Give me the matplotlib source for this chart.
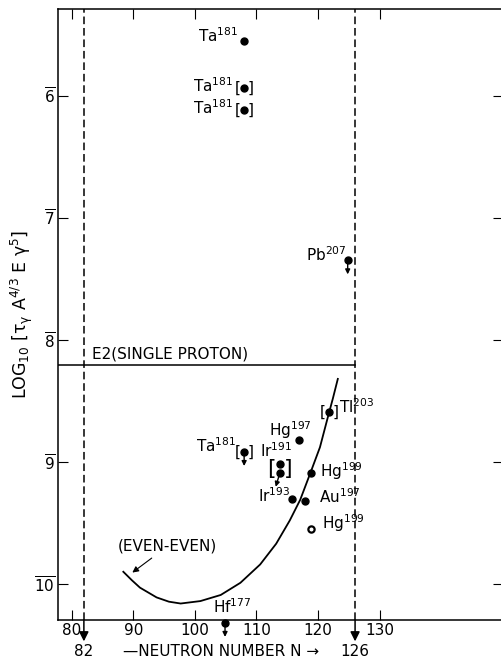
import matplotlib
matplotlib.use("Agg")
import matplotlib.pyplot as plt

plt.rcParams['font.family'] = ['DejaVu Sans']
plt.rcParams['mathtext.default'] = 'regular'

# neutron number N and -log10 value (the axis runs downward, labels with a bar)
pts_n = [108, 108, 108, 124.8, 121.8, 116.9, 108, 113.8, 113.8, 118.9, 115.8, 117.9, 118.9, 104.9]
pts_v = [5.55, 5.94, 6.12, 7.35, 8.59, 8.82, 8.92, 9.02, 9.09, 9.09, 9.30, 9.32, 9.55, 10.32]
pts_lab = ['Ta', 'Ta', 'Ta', 'Pb', 'Tl', 'Hg', 'Ta', 'Ir', None, 'Hg', 'Ir', 'Au', 'Hg', 'Hf']
pts_mass = ['181', '181', '181', '207', '203', '197', '181', '191', None, '199', '193', '197', '199', '177']
bracketed = [False, True, True, False, True, False, True, False, False, False, False, False, False, False]
upper_lim = [False, False, False, True, False, False, True, False, True, False, False, False, False, True]

# even-even curve
curve_n = [88.4, 89.8, 91.1, 93.8, 95.8, 97.7, 100.9, 104.2, 107.4, 110.6, 113.2, 115.4, 117.1,
           118.9, 120.3, 121.6, 122.4, 123.2]
curve_v = [9.90, 9.97, 10.03, 10.11, 10.145, 10.16, 10.14, 10.09, 9.99, 9.84, 9.67, 9.48, 9.31,
           9.07, 8.88, 8.63, 8.48, 8.32]

xticks = [80, 90, 100, 110, 120, 130]
yticks = [6, 7, 8, 9, 10]
magic = [82, 126]
e2_level = 8.205

# label offsets in points (dx, dy, ha)
lab_off = [(-4, 4, 'right'), (-8, 2, 'right'), (-8, 2, 'right'), (-1, 4, 'right'),
           (7, 4, 'left'), (9, 7, 'right'), (-6, 5, 'right'), (9, 10, 'right'), None,
           (6, 1, 'left'), (-1, 2, 'right'), (10, 3, 'left'), (8, 4, 'left'), (5, 12, 'center')]

fs = 11

fig = plt.figure(figsize=(5.02, 6.59), dpi=100)
ax = fig.add_axes([58 / 502, 1 - 620 / 659, 445 / 502, 611 / 659])
ax.set_xlim(77.8, 150)
ax.set_ylim(10.295, 5.29)

for s in ax.spines.values():
    s.set_linewidth(1.1)

ax.set_xticks(xticks)
ax.set_xticklabels([str(t) for t in xticks], fontsize=fs)
ax.set_yticks(yticks)
ax.set_yticklabels([r'$\overline{%d}$' % t if t < 10 else r'$\overline{1}\overline{0}$' for t in yticks],
                   fontsize=fs)
ax.tick_params(direction='in', length=7, width=0.8, top=True, right=True, pad=2)

# dashed magic-number lines with arrows
for m in magic:
    ax.axvline(m, color='black', ls=(0, (5, 2.5)), lw=1.1)
    ax.annotate('', xy=(m, 10.47), xytext=(m, 10.295), annotation_clip=False,
                arrowprops=dict(arrowstyle='-|>', color='black', lw=1.1, mutation_scale=14,
                                shrinkA=0, shrinkB=0))
    ax.text(m, -0.052, str(m), transform=ax.get_xaxis_transform(), ha='center', va='center', fontsize=fs)

ax.text(104.2, -0.052, '\u2014NEUTRON NUMBER N \u2192', transform=ax.get_xaxis_transform(),
        ha='center', va='center', fontsize=fs)

# single proton estimate
ax.plot([77.8, magic[1]], [e2_level, e2_level], color='black', lw=1.1)
ax.text(83.3, e2_level - 0.09, 'E2(SINGLE PROTON)', fontsize=fs, ha='left', va='center')

# even-even curve
ax.plot(curve_n, curve_v, color='black', lw=1.3)
ax.annotate('(EVEN-EVEN)', xy=(89.5, 9.92), xytext=(95.6, 9.69), ha='center', va='center', fontsize=fs,
            arrowprops=dict(arrowstyle='-|>', color='black', lw=0.8, mutation_scale=9, shrinkA=2))

# points
for i in range(len(pts_n)):
    n, v = pts_n[i], pts_v[i]
    if i == 12:
        ax.plot(n, v, 'o', ms=4.5, mfc='white', mec='black', mew=1.6, clip_on=False)
    else:
        ax.plot(n, v, 'o', ms=5, color='black', clip_on=False)
    if upper_lim[i]:
        dx = -3 if i == 8 else 0
        ax.annotate('', xy=(n, v), xytext=(dx, -10), textcoords='offset points', annotation_clip=False,
                    arrowprops=dict(arrowstyle='<|-', color='black', lw=1.0, mutation_scale=7,
                                    shrinkA=0, shrinkB=2))
    if bracketed[i]:
        ax.annotate('[', xy=(n, v), xytext=(-4.5, 0), textcoords='offset points', ha='center', va='center',
                    fontsize=11)
        ax.annotate(']', xy=(n, v), xytext=(4.5, 0), textcoords='offset points', ha='center', va='center',
                    fontsize=11)
    if pts_lab[i] is not None:
        dx, dy, ha = lab_off[i]
        ax.annotate(pts_lab[i] + '$^{%s}$' % pts_mass[i], xy=(n, v), xytext=(dx, dy),
                    textcoords='offset points', ha=ha, va='center', fontsize=fs, annotation_clip=False)

# bracket round the Ir-191 pair
ir_mid = (pts_v[7] + pts_v[8]) / 2
for dx, ch in [(-6, '['), (6, ']')]:
    ax.annotate(ch, xy=(pts_n[7], ir_mid), xytext=(dx, 0), textcoords='offset points',
                ha='center', va='center', fontsize=16)

ax.set_ylabel(r'LOG$_{10}$ [$\tau_{\gamma}$ A$^{4/3}$ E $\gamma^{5}$]', fontsize=12.5)
ax.yaxis.set_label_coords(-0.052, 0.5)

fig.savefig('out.png', dpi=100)
